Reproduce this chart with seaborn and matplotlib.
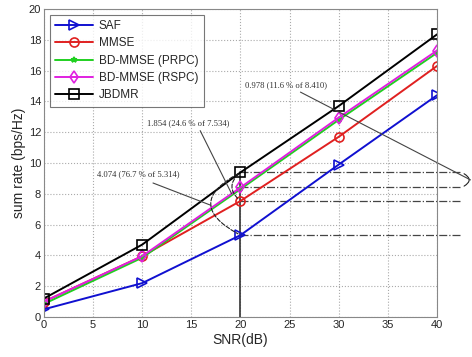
import matplotlib
matplotlib.use("Agg")
import matplotlib.pyplot as plt
import seaborn as sns
import pandas as pd
from matplotlib.patches import FancyArrowPatch

snr = [0, 10, 20, 30, 40]
saf = [0.5, 2.2, 5.314, 9.9, 14.4]
mmse = [1.0, 3.95, 7.534, 11.7, 16.3]
bd_prpc = [0.85, 3.85, 8.3, 12.8, 17.15]
bd_rspc = [1.0, 3.95, 8.41, 12.95, 17.3]
jbdmr = [1.2, 4.7, 9.388, 13.7, 18.35]

series_names = ["SAF", "MMSE", "BD-MMSE (PRPC)", "BD-MMSE (RSPC)", "JBDMR"]
series_vals = [saf, mmse, bd_prpc, bd_rspc, jbdmr]
colors = ["#1010d0", "#e02020", "#20d020", "#e020e0", "#000000"]
markers = [">", "o", "*", "d", "s"]
msizes = [6.5, 6.5, 4, 6, 6.5]

sns.set_theme(style="whitegrid")
plt.rcParams['font.family'] = ['Liberation Sans', 'DejaVu Sans']

fig = plt.figure(figsize=(4.72, 3.57), dpi=100)
ax = fig.add_axes([0.093, 0.112, 0.833, 0.863])

for name, vals, c, m, ms in zip(series_names, series_vals, colors, markers, msizes):
    df = pd.DataFrame({"SNR": snr, "rate": vals})
    sns.lineplot(data=df, x="SNR", y="rate", ax=ax, color=c, marker=m,
                 markersize=ms, markerfacecolor="none", markeredgecolor=c,
                 markeredgewidth=1.2, linewidth=1.4, label=name)

ax.set_xlim(0, 40)
ax.set_ylim(0, 20)
ax.set_xticks(range(0, 41, 5))
ax.set_yticks(range(0, 21, 2))
ax.set_xlabel("SNR(dB)", fontsize=10, labelpad=2)
ax.set_ylabel("sum rate (bps/Hz)", fontsize=10, labelpad=2)
ax.tick_params(labelsize=8, pad=2, length=0)
ax.grid(True, linestyle=":", color="#aaaaaa", linewidth=0.8)
ax.set_facecolor("white")
for s in ax.spines.values():
    s.set_color("#888888")
    s.set_linewidth(0.8)

leg = ax.legend(loc="upper left", fontsize=8.5, frameon=True, fancybox=False,
                edgecolor="#555555", borderaxespad=0.5, handlelength=3.2,
                labelspacing=0.45, borderpad=0.45, handletextpad=0.5)
leg.get_frame().set_linewidth(0.8)

# annotations at SNR = 20 dB
x0 = snr[2]
top = jbdmr[2]
ref_levels = [jbdmr[2], bd_rspc[2], mmse[2], saf[2]]
ax.plot([x0, x0], [0, top], color="#333333", linewidth=1.2, zorder=1)
for lv in ref_levels:
    ax.plot([x0, 42.5], [lv, lv], color="#444444", linestyle="-.", linewidth=0.9,
            clip_on=False, zorder=1)

def arc(p1, p2, rad, ls="--"):
    a = FancyArrowPatch(p1, p2, connectionstyle=f"arc3,rad={rad}",
                        arrowstyle="-", linestyle=ls, color="#222222",
                        linewidth=0.8, clip_on=False, zorder=2)
    ax.add_patch(a)

arc((x0, top), (x0, saf[2]), 0.95)
arc((x0, top), (x0, mmse[2]), 0.6)
arc((42.5, top), (42.5, bd_rspc[2]), -1.0, ls="-")

tfont = dict(family="Liberation Serif", fontsize=6.2, color="#333333")
ax.text(10.5, 12.6, f"{top - mmse[2]:.3f} (24.6 % of {mmse[2]:.3f})", **tfont, va="center")
ax.text(5.4, 9.25, f"{top - saf[2]:.3f} (76.7 % of {saf[2]:.3f})", **tfont, va="center")
ax.text(20.5, 15.05, f"{top - bd_rspc[2]:.3f} (11.6 % of {bd_rspc[2]:.3f})", **tfont, va="center")

lk = dict(color="#444444", linewidth=0.8, clip_on=False, zorder=2)
ax.plot([15.9, 19.1], [12.1, 8.0], **lk)
ax.plot([11.1, 17.0], [8.7, 7.25], **lk)
ax.plot([26.1, 43.4], [14.6, 8.9], **lk)

fig.savefig("out.png", dpi=100)
